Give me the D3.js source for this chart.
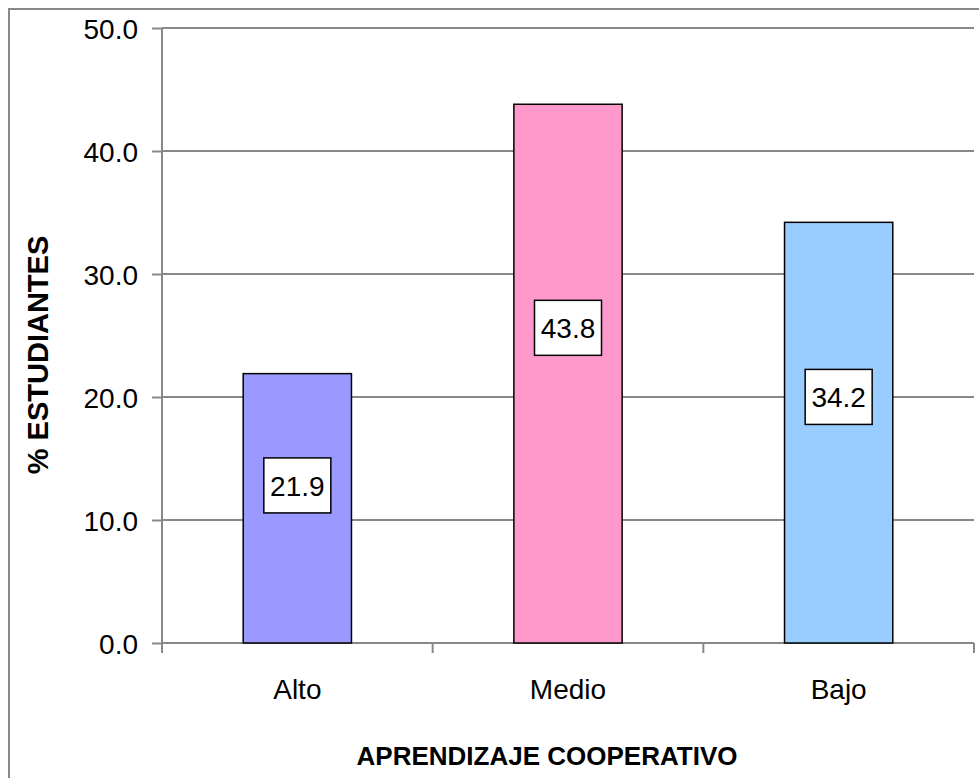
<!DOCTYPE html>
<html>
<head>
<meta charset="utf-8">
<script src="https://cdn.jsdelivr.net/npm/d3@7"></script>
<style>
  body { margin: 0; background: #fff; }
  svg text { font-family: "Liberation Sans", Arial, sans-serif; fill: #000; }
</style>
</head>
<body>
<svg id="chart" width="979" height="778"></svg>
<script>
var categories = ["Alto", "Medio", "Bajo"];
var values = [21.9, 43.8, 34.2];
var colors = ["#9999ff", "#ff99cc", "#99ccff"];
var yTicks = [0, 10, 20, 30, 40, 50];

var svg = d3.select("#chart"),
    margin = {top: 28, left: 162, bottom: 135, right: 5},
    width = +svg.attr("width"),
    height = +svg.attr("height");

// outer chart frame (runs off right / bottom edge)
svg.append("rect")
    .attr("x", 9).attr("y", 9)
    .attr("width", width).attr("height", height)
    .attr("fill", "none")
    .attr("stroke", "#888").attr("stroke-width", 2);

var x = d3.scaleBand()
    .domain(categories)
    .range([margin.left, width - margin.right]);

var y = d3.scaleLinear()
    .domain([0, 50])
    .range([height - margin.bottom, margin.top]);

// gridlines
svg.append("g")
    .selectAll("line")
    .data(yTicks.slice(1))
    .enter().append("line")
    .attr("x1", margin.left).attr("x2", width - margin.right)
    .attr("y1", d => y(d)).attr("y2", d => y(d))
    .attr("stroke", "#888").attr("stroke-width", 2);

// y axis
var yAxis = svg.append("g")
    .attr("transform", `translate(${margin.left},0)`)
    .call(d3.axisLeft(y).tickValues(yTicks).tickFormat(d3.format(".1f")).tickSize(10).tickPadding(14));
yAxis.selectAll("path, line").attr("stroke", "#888").attr("stroke-width", 2);
yAxis.select(".domain").attr("d", `M0,${y(0)}V${y(50)}`);
yAxis.selectAll("text").style("font-size", "28px").attr("dy", "0.36em");

// x axis with ticks at band edges
var xg = svg.append("g");
xg.append("line")
    .attr("x1", margin.left).attr("x2", width - margin.right)
    .attr("y1", y(0)).attr("y2", y(0))
    .attr("stroke", "#888").attr("stroke-width", 2);
xg.selectAll(".tk")
    .data(categories.concat(["end"]))
    .enter().append("line")
    .attr("x1", (d, i) => i < categories.length ? x(d) : x.range()[1])
    .attr("x2", (d, i) => i < categories.length ? x(d) : x.range()[1])
    .attr("y1", y(0)).attr("y2", y(0) + 10)
    .attr("stroke", "#888").attr("stroke-width", 2);
xg.selectAll("text")
    .data(categories)
    .enter().append("text")
    .attr("x", d => x(d) + x.bandwidth() / 2)
    .attr("y", y(0) + 56)
    .attr("text-anchor", "middle")
    .style("font-size", "28px")
    .text(d => d);

// bars
var barW = x.bandwidth() * 0.4;
svg.selectAll(".bar")
    .data(values)
    .enter().append("rect")
    .attr("class", "bar")
    .attr("x", (d, i) => x(categories[i]) + (x.bandwidth() - barW) / 2)
    .attr("y", d => y(d))
    .attr("width", barW)
    .attr("height", d => y(0) - y(d))
    .attr("fill", (d, i) => colors[i])
    .attr("stroke", "#000").attr("stroke-width", 1.5);

// value labels in boxes
var lab = svg.selectAll(".lab")
    .data(values)
    .enter().append("g")
    .attr("class", "lab")
    .attr("transform", (d, i) => `translate(${x(categories[i]) + x.bandwidth() / 2},${y(d * 0.585)})`);
lab.append("rect")
    .attr("x", -33.5).attr("y", -27.5)
    .attr("width", 67).attr("height", 55)
    .attr("fill", "#fff").attr("stroke", "#000").attr("stroke-width", 1.5);
lab.append("text")
    .attr("text-anchor", "middle")
    .attr("dy", "0.36em")
    .style("font-size", "28px")
    .text(d => d3.format(".1f")(d));

// axis titles
svg.append("text")
    .attr("transform", "translate(48,355) rotate(-90)")
    .attr("text-anchor", "middle")
    .style("font-size", "29px").style("font-weight", "bold")
    .text("% ESTUDIANTES");

svg.append("text")
    .attr("x", 547).attr("y", 765)
    .attr("text-anchor", "middle")
    .style("font-size", "26px").style("font-weight", "bold")
    .text("APRENDIZAJE COOPERATIVO");
</script>
</body>
</html>
